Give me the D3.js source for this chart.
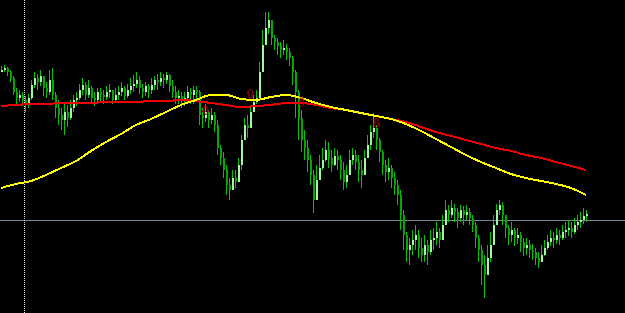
<!DOCTYPE html>
<html>
<head>
<meta charset="utf-8">
<script src="https://cdn.jsdelivr.net/npm/d3@7"></script>
<style>
  html, body { margin: 0; padding: 0; background: #000; }
  #chart { width: 625px; height: 313px; overflow: hidden; }
</style>
</head>
<body>
<div id="chart"></div>
<script>
// price in points (open = previous close)
const closes = [
  250,252,248,242,228,222,225,220,216,222, 235,242,238,244,232,228,240,225,212,205,
  200,208,202,212,220,222,230,235,225,232, 222,220,228,225,223,228,230,220,225,228,
  232,224,230,234,236,240,232,228,234,230, 235,240,238,242,240,245,234,228,222,224,
  220,222,228,225,230,228,205,202,208,200, 205,195,172,162,150,135,130,142,138,155,
  180,195,192,208,218,222,248,275,292,300, 282,278,274,270,272,268,262,248,228,202,
  180,172,160,145,120,140,152,160,170,162, 155,164,160,150,138,145,160,165,158,150,
  145,162,175,188,192,180,168,155,148,152, 142,135,125,105,85,70,75,80,85,72,
  65,75,68,80,82,88,80,95,110,105, 112,108,102,110,105,108,102,95,82,70,
  55,45,62,75,95,110,115,105,92,85, 90,82,85,78,72,75,70,68,62,58,
  65,72,78,82,80,85,82,88,90,92, 88,95,98,100,104,106
];
const highs = [
  254,255,253,250,244,232,230,228,224,226, 240,248,246,250,242,238,250,252,228,220,
  212,216,215,220,225,228,236,242,238,240, 234,228,232,232,230,234,236,230,232,234,
  238,234,236,242,245,248,244,236,238,236, 242,244,246,248,246,248,246,240,234,230,
  228,228,234,232,234,234,230,212,216,210, 212,208,200,175,168,155,142,150,150,162,
  185,202,205,215,225,230,258,290,308,308, 300,285,282,278,280,276,272,264,250,230,
  210,190,180,165,150,155,165,172,180,178, 170,172,170,165,158,155,170,172,170,165,
  160,170,185,195,207,195,182,170,160,162, 155,148,140,130,110,88,82,90,95,90,
  82,85,80,90,92,98,92,105,120,115, 120,116,112,115,114,115,112,105,98,85,
  75,65,75,88,105,116,120,118,105,95, 98,92,92,88,82,82,80,76,72,68,
  75,80,85,90,88,92,90,95,98,100, 98,102,105,108,112,110
];
const lows = [
  248,248,244,238,225,216,218,214,208,212, 220,232,230,234,224,222,225,220,202,195,
  190,185,193,200,208,214,220,225,220,222, 216,214,218,218,216,220,222,216,218,220,
  224,220,222,226,228,232,226,222,224,222, 226,230,230,234,232,236,228,222,216,216,
  212,214,218,216,216,220,195,192,198,192, 196,188,165,155,142,125,120,130,132,140,
  150,180,182,200,210,216,220,252,280,286, 275,270,265,262,265,260,254,235,202,180,
  168,160,148,135,107,130,142,150,158,152, 148,154,150,140,130,132,148,155,150,138,
  132,152,162,170,182,170,158,145,138,140, 132,125,115,90,70,58,55,65,70,62,
  58,58,55,65,70,75,72,82,95,98, 102,98,92,98,95,100,95,88,72,58,
  35,22,48,58,78,100,105,95,82,75, 78,74,76,68,64,65,62,60,55,52,
  58,64,70,74,72,76,75,80,82,84, 82,86,90,92,96,98
];

// moving averages, sampled every 5 bars
const maBars = d3.range(0, 196, 5);
const maYellow = [
  132,136,139,145,152,159,169,178,186,195, 201,208,215,220,225,225,221,220,223,225,
  222,217,213,210,207,204,201,196,189,181, 173,165,158,152,146,142,139,136,132,125
];
const maRed = [
  214,215,216,216,217,217,217,218,218,218, 219,219,220,219,217,215,213,214,215,217,
  217,215,212,210,207,204,201,198,193,188, 184,180,176,172,169,165,162,158,154,150
];

// signal arrows (bar, price, direction)
const arrowBars = [68, 83, 100, 125];
const arrowPrices = [210, 227, 218, 197];
const arrowDirs = ['down', 'up', 'down', 'down'];

const hLevel = 100.5;
const vLineBar = 7.67;

const width = 625, height = 313;

const svg = d3.select('#chart')
  .append('svg')
    .attr('width', width)
    .attr('height', height)
    .style('background', '#000');

const x = d3.scaleLinear().domain([0, closes.length - 1]).range([1, 586]);
const y = d3.scaleLinear().domain([7, 320]).range([height, 0]);

// level lines
svg.append('line')
  .attr('x1', 0).attr('x2', width)
  .attr('y1', Math.round(y(hLevel)) + 0.5).attr('y2', Math.round(y(hLevel)) + 0.5)
  .attr('stroke', '#778899').attr('stroke-width', 1);

svg.append('line')
  .attr('x1', Math.round(x(vLineBar)) + 0.5).attr('x2', Math.round(x(vLineBar)) + 0.5)
  .attr('y1', 0).attr('y2', height)
  .attr('stroke', '#e0e0e0').attr('stroke-width', 1)
  .attr('stroke-dasharray', '1,1');

// candles
const bars = closes.map((c, i) => {
  const o = i === 0 ? c - 2 : closes[i - 1];
  return {
    i, o, c,
    h: Math.max(highs[i], o, c),
    l: Math.min(lows[i], o, c)
  };
});

const g = svg.append('g').attr('shape-rendering', 'crispEdges');

g.selectAll('.wick')
  .data(bars)
  .enter().append('line')
    .attr('class', 'wick')
    .attr('x1', d => Math.round(x(d.i)) + 0.5)
    .attr('x2', d => Math.round(x(d.i)) + 0.5)
    .attr('y1', d => y(d.h))
    .attr('y2', d => y(d.l))
    .attr('stroke', '#00c800')
    .attr('stroke-width', 1);

g.selectAll('.body')
  .data(bars)
  .enter().append('rect')
    .attr('class', 'body')
    .attr('x', d => Math.round(x(d.i)))
    .attr('y', d => y(Math.max(d.o, d.c)))
    .attr('width', 2)
    .attr('height', d => Math.max(1, Math.abs(y(d.o) - y(d.c))))
    .attr('fill', d => d.c >= d.o ? '#a0f8a0' : '#00aa00');

// moving averages
const maLine = vals => d3.line()
  .curve(d3.curveMonotoneX)
  .x((d, k) => x(maBars[k]))
  .y(d => y(d))(vals);

svg.append('path')
  .attr('d', maLine(maRed))
  .attr('fill', 'none')
  .attr('stroke', '#ee0000')
  .attr('stroke-width', 2)
  .attr('shape-rendering', 'crispEdges');

svg.append('path')
  .attr('d', maLine(maYellow))
  .attr('fill', 'none')
  .attr('stroke', '#ffff00')
  .attr('stroke-width', 2)
  .attr('shape-rendering', 'crispEdges');

// arrows
const arrowPath = dir => dir === 'down'
  ? 'M-1.5,-4.5 H1.5 V0.5 H3.5 L0,4.5 L-3.5,0.5 H-1.5 Z'
  : 'M-1.5,4.5 H1.5 V-0.5 H3.5 L0,-4.5 L-3.5,-0.5 H-1.5 Z';

svg.selectAll('.arrow')
  .data(arrowBars)
  .enter().append('path')
    .attr('class', 'arrow')
    .attr('transform', (b, k) => `translate(${Math.round(x(b)) + 0.5},${Math.round(y(arrowPrices[k])) + 0.5})`)
    .attr('d', (b, k) => arrowPath(arrowDirs[k]))
    .attr('fill', 'none')
    .attr('stroke', '#c00000')
    .attr('stroke-width', 1);
</script>
</body>
</html>
